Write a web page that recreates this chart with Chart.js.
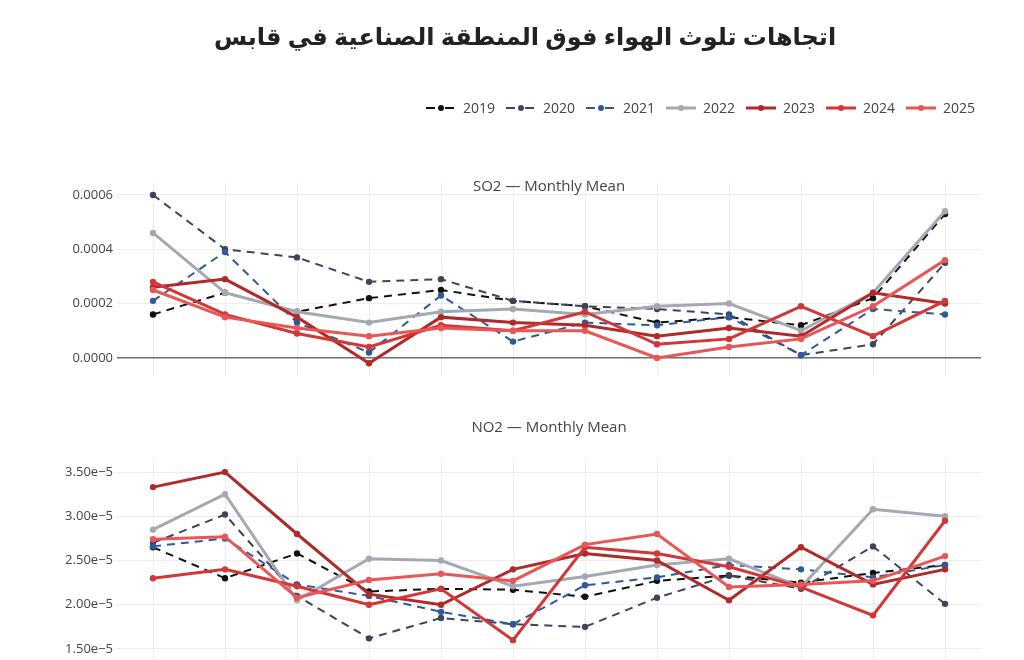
<!DOCTYPE html>
<html>
<head>
<meta charset="utf-8">
<script src="https://cdn.jsdelivr.net/npm/chart.js@4.4.1/dist/chart.umd.min.js"></script>
<style>
  html,body{margin:0;padding:0;background:#fff;overflow:hidden;}
  #wrap1{position:absolute;left:0;top:0;width:1024px;height:391px;}
  #wrap2{position:absolute;left:0;top:390px;width:1024px;height:275px;}
</style>
</head>
<body>
<div id="wrap1"><canvas id="c1"></canvas></div>
<div id="wrap2"><canvas id="c2"></canvas></div>
<script>
// ---------- DATA ----------
const months = ['Jan','Feb','Mar','Apr','May','Jun','Jul','Aug','Sep','Oct','Nov','Dec'];
const years = ['2019','2020','2021','2022','2023','2024','2025'];

const so2_2019 = [0.00016,0.00024,0.00017,0.00022,0.00025,0.00021,0.00019,0.00013,0.00015,0.00012,0.00022,0.00053];
const so2_2020 = [0.00060,0.00040,0.00037,0.00028,0.00029,0.00021,0.00019,0.00018,0.00016,0.00001,0.00005,0.00035];
const so2_2021 = [0.00021,0.00039,0.00013,0.00002,0.00023,0.00006,0.00013,0.00012,0.00015,0.00001,0.00018,0.00016];
const so2_2022 = [0.00046,0.00024,0.00017,0.00013,0.00017,0.00018,0.00016,0.00019,0.00020,0.00010,0.00024,0.00054];
const so2_2023 = [0.00026,0.00029,0.00015,-0.00002,0.00015,0.00013,0.00012,0.00008,0.00011,0.00008,0.00024,0.00020];
const so2_2024 = [0.00028,0.00016,0.00009,0.00004,0.00012,0.00010,0.00017,0.00005,0.00007,0.00019,0.00008,0.00021];
const so2_2025 = [0.00025,0.00015,0.00011,0.00008,0.00011,0.00010,0.00010,0.00000,0.00004,0.00007,0.00019,0.00036];

const no2_2019 = [2.65e-5,2.30e-5,2.58e-5,2.15e-5,2.18e-5,2.17e-5,2.09e-5,2.27e-5,2.33e-5,2.25e-5,2.36e-5,2.45e-5];
const no2_2020 = [2.70e-5,3.02e-5,2.10e-5,1.62e-5,1.85e-5,1.78e-5,1.75e-5,2.08e-5,2.33e-5,2.18e-5,2.66e-5,2.01e-5];
const no2_2021 = [2.66e-5,2.75e-5,2.23e-5,2.10e-5,1.92e-5,1.78e-5,2.22e-5,2.31e-5,2.45e-5,2.40e-5,2.31e-5,2.45e-5];
const no2_2022 = [2.85e-5,3.25e-5,2.05e-5,2.52e-5,2.50e-5,2.21e-5,2.32e-5,2.45e-5,2.52e-5,2.20e-5,3.08e-5,3.00e-5];
const no2_2023 = [3.33e-5,3.50e-5,2.80e-5,2.12e-5,2.00e-5,2.40e-5,2.58e-5,2.50e-5,2.05e-5,2.65e-5,2.23e-5,2.40e-5];
const no2_2024 = [2.30e-5,2.40e-5,2.21e-5,2.00e-5,2.18e-5,1.60e-5,2.65e-5,2.58e-5,2.43e-5,2.20e-5,1.88e-5,2.95e-5];
const no2_2025 = [2.74e-5,2.77e-5,2.08e-5,2.28e-5,2.35e-5,2.27e-5,2.68e-5,2.80e-5,2.20e-5,2.23e-5,2.27e-5,2.55e-5];

const so2Ticks = [0, 0.0002, 0.0004, 0.0006];
const no2Ticks = [1.5e-5, 2.0e-5, 2.5e-5, 3.0e-5, 3.5e-5];

const mainTitle = 'اتجاهات تلوث الهواء فوق المنطقة الصناعية في قابس';
const so2Title = 'SO2 — Monthly Mean';
const no2Title = 'NO2 — Monthly Mean';

// ---------- STYLE ----------
const colors = ['#111111','#3d4658','#2f5a9a','#a4a8b3','#b02a2a','#d23636','#e85656'];
const dashed = [true,true,true,false,false,false,false];
const FONT = "'Open Sans', 'DejaVu Sans', sans-serif";

function makeDatasets(series){
  return series.map((d,i)=>({
    label: years[i],
    data: d,
    borderColor: colors[i],
    backgroundColor: colors[i],
    pointBackgroundColor: colors[i],
    pointBorderWidth: 0,
    pointRadius: 3.2,
    borderWidth: dashed[i] ? 2 : 3,
    borderDash: dashed[i] ? [8,6] : [],
    tension: 0,
    order: 6 - i
  }));
}

const subTitlePlugin = {
  id: 'subTitle',
  afterDraw(chart, args, opts){
    const ctx = chart.ctx;
    ctx.save();
    ctx.font = '15px ' + FONT;
    ctx.fillStyle = '#444';
    ctx.textAlign = 'center';
    ctx.textBaseline = 'middle';
    const a = chart.chartArea;
    ctx.fillText(opts.text, (a.left + a.right)/2, opts.y);
    ctx.restore();
  }
};

const headerPlugin = {
  id: 'header',
  afterDraw(chart){
    const ctx = chart.ctx;
    ctx.save();
    ctx.font = 'bold 24px ' + FONT;
    ctx.fillStyle = '#222';
    ctx.textAlign = 'center';
    ctx.textBaseline = 'middle';
    ctx.fillText(mainTitle, 525, 38);
    // legend
    ctx.font = '14px ' + FONT;
    ctx.textAlign = 'left';
    chart.data.datasets.forEach((ds, i)=>{
      const x0 = 426 + i*80, y = 108;
      ctx.strokeStyle = ds.borderColor;
      ctx.lineWidth = ds.borderWidth;
      ctx.beginPath();
      if (ds.borderDash.length){
        ctx.moveTo(x0, y); ctx.lineTo(x0+9, y);
        ctx.moveTo(x0+19, y); ctx.lineTo(x0+28, y);
      } else {
        ctx.moveTo(x0, y); ctx.lineTo(x0+30, y);
      }
      ctx.stroke();
      ctx.fillStyle = ds.borderColor;
      ctx.beginPath();
      ctx.arc(x0+15, y, 3, 0, Math.PI*2);
      ctx.fill();
      ctx.fillStyle = '#444';
      ctx.fillText(ds.label, x0+37, y+1);
    });
    ctx.restore();
  }
};

function baseOptions(yMin, yMax, ticks, fmt, padTop, padBottom, titleText, titleY){
  return {
    responsive: true,
    maintainAspectRatio: false,
    animation: false,
    layout: { padding: { left: 0, right: 43, top: padTop, bottom: padBottom } },
    plugins: {
      legend: { display: false },
      tooltip: { enabled: false },
      subTitle: { text: titleText, y: titleY }
    },
    scales: {
      x: {
        type: 'category',
        offset: true,
        grid: { color: '#ececec', lineWidth: 1, drawTicks: false, offset: false },
        border: { display: false },
        ticks: { display: false },
        afterFit(scale){ scale.height = 0; scale.paddingLeft = 0; scale.paddingRight = 0; }
      },
      y: {
        min: yMin, max: yMax,
        afterBuildTicks(scale){ scale.ticks = ticks.map(v=>({value:v})); },
        afterFit(scale){ scale.width = 117; scale.paddingTop = 0; scale.paddingBottom = 0; },
        grid: {
          drawTicks: false,
          color: (c)=> (c.tick && c.tick.value === 0) ? '#6f6f6f' : '#ececec',
          lineWidth: (c)=> (c.tick && c.tick.value === 0) ? 1.5 : 1
        },
        border: { display: false },
        ticks: {
          padding: 4,
          color: '#444',
          font: { family: FONT, size: 13 },
          callback: fmt
        }
      }
    }
  };
}

const so2Series = [so2_2019,so2_2020,so2_2021,so2_2022,so2_2023,so2_2024,so2_2025];
const no2Series = [no2_2019,no2_2020,no2_2021,no2_2022,no2_2023,no2_2024,no2_2025];

new Chart(document.getElementById('c1'), {
  type: 'line',
  data: { labels: months, datasets: makeDatasets(so2Series) },
  options: baseOptions(-0.0000667, 0.000644, so2Ticks, (v)=>Number(v).toFixed(4), 183, 15, so2Title, 187),
  plugins: [subTitlePlugin, headerPlugin]
});

new Chart(document.getElementById('c2'), {
  type: 'line',
  data: { labels: months, datasets: makeDatasets(no2Series) },
  options: baseOptions(1.364e-5, 3.648e-5, no2Ticks, (v)=>(Number(v)*1e5).toFixed(2)+'e\u22125', 69, 0, no2Title, 38),
  plugins: [subTitlePlugin]
});
</script>
</body>
</html>
